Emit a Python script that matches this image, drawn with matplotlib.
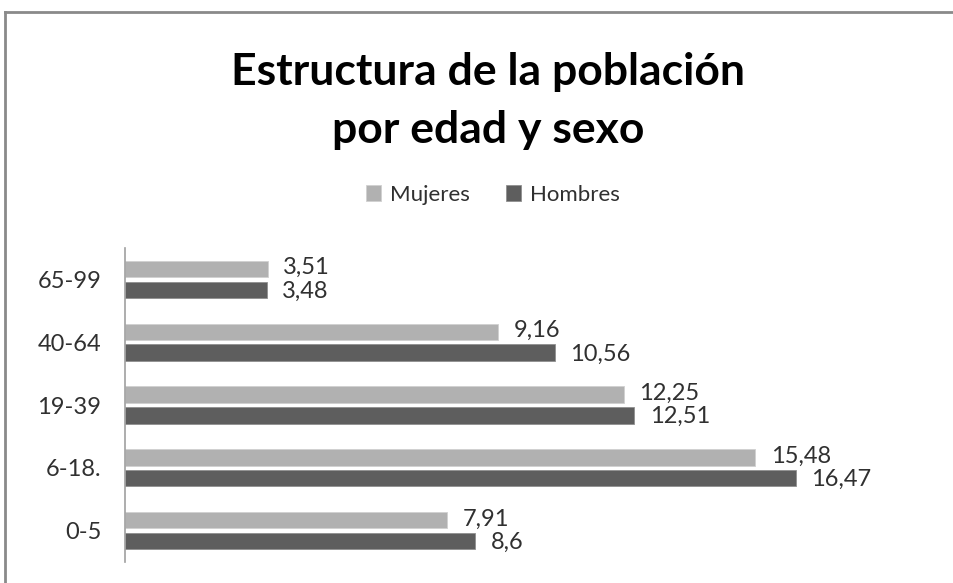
import matplotlib
matplotlib.use("Agg")
import matplotlib.pyplot as plt
from matplotlib.lines import Line2D
import numpy as np

categories = ["0-5", "6-18.", "19-39", "40-64", "65-99"]
mujeres = [7.91, 15.48, 12.25, 9.16, 3.51]
hombres = [8.6, 16.47, 12.51, 10.56, 3.48]
mujeres_labels = ["7,91", "15,48", "12,25", "9,16", "3,51"]
hombres_labels = ["8,6", "16,47", "12,51", "10,56", "3,48"]

plt.rcParams['font.family'] = ['Lato', 'DejaVu Sans']

fig = plt.figure(figsize=(9.54, 5.83), dpi=100)
ax = fig.add_axes([125/954, 1-562/583, 733/954, 314/583])

y = np.arange(len(categories))
h = 0.26
off = 0.165
light = "#b1b1b1"
dark = "#5e5e5e"
ax.barh(y + off, mujeres, height=h, color=light, edgecolor="#d0d0d0", linewidth=0.6, label="Mujeres")
ax.barh(y - off, hombres, height=h, color=dark, edgecolor="#909090", linewidth=0.6, label="Hombres")

for yi, v, t in zip(y, mujeres, mujeres_labels):
    ax.annotate(t, (v, yi + off), xytext=(11, 1), textcoords="offset points",
                va="center", ha="left", fontsize=17, color="#303030")
for yi, v, t in zip(y, hombres, hombres_labels):
    ax.annotate(t, (v, yi - off), xytext=(11, -1), textcoords="offset points",
                va="center", ha="left", fontsize=17, color="#303030")

ax.set_xlim(0, 18)
ax.set_ylim(-0.5, 4.5)
ax.set_yticks(y)
ax.set_yticklabels(categories, fontsize=17, color="#303030")
ax.tick_params(axis="y", length=0, pad=17)
ax.set_xticks([])
for s in ["top", "right", "bottom"]:
    ax.spines[s].set_visible(False)
ax.spines["left"].set_color("#a0a0a0")
ax.spines["left"].set_linewidth(1.2)

fig.text(488/954, 1-72/583, "Estructura de la población", ha="center", va="center",
         fontsize=32, fontweight="bold", color="#000000")
fig.text(488/954, 1-130/583, "por edad y sexo", ha="center", va="center",
         fontsize=32, fontweight="bold", color="#000000")

fig.legend(loc="center", bbox_to_anchor=(493/954, 1-195/583), ncol=2, frameon=False,
           fontsize=16, handlelength=0.7, handleheight=0.7, handletextpad=0.4,
           columnspacing=1.6, labelcolor="#303030")

fig.add_artist(Line2D([5/954, 5/954], [0, 1-12/583], transform=fig.transFigure,
                      color="#8a8a8a", linewidth=2))
fig.add_artist(Line2D([5/954, 1], [1-12/583, 1-12/583], transform=fig.transFigure,
                      color="#8a8a8a", linewidth=2))

fig.savefig("out.png", dpi=100)
